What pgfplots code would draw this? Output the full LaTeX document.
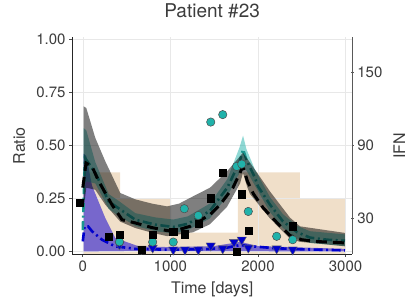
\documentclass[border=0pt]{standalone}
\usepackage{fontspec}
\setmainfont{TeX Gyre Heros}
\usepackage{pgfplots}
\pgfplotsset{compat=1.18}
\definecolor{tanc}{RGB}{222,184,135}
\definecolor{tealc}{RGB}{32,178,170}
\definecolor{tealline}{RGB}{28,150,143}
\definecolor{slate}{RGB}{106,90,205}
\definecolor{mblue}{RGB}{0,0,205}
\definecolor{txt}{RGB}{60,60,60}
\begin{document}
\begin{tikzpicture}
\path (0,0) rectangle (420pt,300pt);
% ---------- right axis: IFN (tan steps) ----------
\begin{axis}[
  at={(72pt,50.7pt)}, anchor=south west, scale only axis,
  width=280.3pt, height=216.6pt,
  xmin=-123.3, xmax=3077.6, ymin=0.3, ymax=178.8,
  axis y line*=right, axis x line=none,
  axis line style={-, black!65, line width=0.7pt},
  ytick={30,90,150}, yticklabels={30,90,150},
  tick align=center, major tick length=3pt, tick style={black!65, line width=0.6pt},
  /pgf/number format/assume math mode=true,
  yticklabel style={font=\fontsize{15}{18}\selectfont, text=txt},
  ylabel=IFN,
  ylabel style={at={(axis description cs:1.188,0.5)}, anchor=base, font=\fontsize{16}{18}\selectfont, text=txt},
]
\addplot[fill=tanc, fill opacity=0.45, draw=none] coordinates {
  (0,0) (0,67.6) (425,67.6) (425,45.9) (1010,45.9) (1010,17.9) (1772,17.9)
  (1772,67.6) (2480,67.6) (2480,45.9) (3000,45.9) (3000,0)} -- cycle;
\end{axis}
% ---------- left axis: Ratio ----------
\begin{axis}[
  at={(72pt,50.7pt)}, anchor=south west, scale only axis,
  width=280.3pt, height=216.6pt,
  xmin=-123.3, xmax=3077.6, ymin=-0.0122, ymax=1.0076,
  axis x line*=bottom, axis y line*=left,
  axis line style={-, black!85, line width=0.7pt},
  xtick={0,1000,2000,3000}, xticklabels={0,1000,2000,3000},
  ytick={0,0.25,0.5,0.75,1}, yticklabels={0.00,0.25,0.50,0.75,1.00},
  scaled ticks=false,
  grid=major, major grid style={black!9, line width=0.5pt},
  tick align=outside, major tick length=3pt, tick style={black!70, line width=0.6pt},
  /pgf/number format/assume math mode=true,
  ticklabel style={font=\fontsize{15}{18}\selectfont, text=txt},
  title={Patient \#23},
  title style={at={(axis description cs:0.5,1.0656)}, anchor=base, font=\fontsize{19}{22}\selectfont, text=txt},
  xlabel={Time [days]},
  xlabel style={at={(axis description cs:0.5,-0.1847)}, anchor=base, font=\fontsize{16}{18}\selectfont, text=txt},
  ylabel={Ratio},
  ylabel style={at={(axis description cs:-0.1677,0.5)}, anchor=base, font=\fontsize{16}{18}\selectfont, text=txt},
]
% blue band + line + triangles
\addplot[fill=slate, fill opacity=0.9, draw=none] coordinates {
 (10,0.46) (40,0.45) (105,0.31) (257,0.157) (371,0.063) (638,0.024) (1000,0.02)
 (1500,0.025) (1800,0.045) (2000,0.025) (2994,0.012)
 (2994,0.0) (500,0.002) (10,0.0)} -- cycle;
\addplot[mblue, line width=2.6pt, dash pattern=on 9pt off 3.5pt on 2pt off 3.5pt] coordinates {
 (0,0.047) (20,0.118) (60,0.118) (105,0.095) (219,0.055) (368,0.024) (600,0.012)
 (962,0.008) (1400,0.01) (1650,0.018) (1800,0.03) (1900,0.025) (2200,0.015)
 (2500,0.01) (2994,0.005)};
\addplot[only marks, mark=triangle*, mark size=5.4pt,
  mark options={rotate=180, fill=mblue, draw=black!60, line width=0.4pt}] coordinates {
 (419,0.032) (670,0.012) (798,0.017) (1033,0.008) (1167,0.008) (1319,0.008)
 (1461,0.027) (1598,0.013) (1727,0.044) (1815,0.055) (1890,0.017) (2214,0.013) (2397,0.008)};
% teal band + line + circles
\addplot[fill=tealc, fill opacity=0.5, draw=none] coordinates {
 (10,0.58) (40,0.57) (143,0.42) (296,0.27) (419,0.235) (600,0.18) (828,0.16) (1033,0.15)
 (1200,0.165) (1450,0.225) (1650,0.34) (1790,0.49) (1830,0.545) (1870,0.48) (1966,0.385)
 (2138,0.255) (2286,0.175) (2450,0.12) (2594,0.095) (2994,0.08)
 (2994,0.025) (2594,0.04) (2450,0.06) (2286,0.11) (2138,0.185) (1966,0.31) (1870,0.38)
 (1830,0.40) (1790,0.37) (1650,0.26) (1450,0.155) (1200,0.10) (1033,0.085) (828,0.095)
 (600,0.12) (419,0.165) (296,0.20) (143,0.32) (40,0.33) (10,0.30)} -- cycle;
\addplot[tealline, line width=2.6pt, dash pattern=on 9pt off 3.5pt on 2pt off 3.5pt] coordinates {
 (0,0.10) (25,0.44) (143,0.37) (296,0.235) (419,0.20) (600,0.149) (828,0.126) (1033,0.115)
 (1200,0.13) (1450,0.19) (1650,0.30) (1790,0.42) (1830,0.48) (1870,0.43) (1966,0.347)
 (2001,0.306) (2138,0.22) (2286,0.141) (2450,0.09) (2594,0.065) (2789,0.055) (2994,0.05)};
\addplot[only marks, mark=*, mark size=4.2pt,
  mark options={fill=tealc, draw=black!70, line width=0.5pt}] coordinates {
 (419,0.045) (798,0.044) (1033,0.044) (1159,0.201) (1319,0.169) (1461,0.609) (1598,0.644)
 (1757,0.40) (1815,0.411) (1890,0.188) (2214,0.071) (2397,0.055)};
% gray band + black dashed line + squares
\addplot[fill=black, fill opacity=0.5, draw=none] coordinates {
 (10,0.683) (40,0.675) (143,0.534) (257,0.424) (428,0.275) (600,0.245) (790,0.225) (962,0.212)
 (1100,0.225) (1258,0.259) (1453,0.30) (1647,0.377) (1796,0.448) (1829,0.465) (1880,0.435)
 (1910,0.418) (2138,0.282) (2366,0.159) (2480,0.118) (2994,0.087)
 (2994,0.024) (2480,0.045) (2366,0.06) (2138,0.155) (1910,0.27) (1880,0.30) (1829,0.37)
 (1796,0.32) (1647,0.21) (1453,0.128) (1258,0.09) (1100,0.08) (962,0.072) (790,0.088)
 (600,0.11) (428,0.14) (257,0.22) (143,0.29) (40,0.30) (10,0.20)} -- cycle;
\addplot[black, line width=3pt, dash pattern=on 11pt off 6pt] coordinates {
 (0,0.30) (37,0.416) (105,0.40) (182,0.33) (333,0.22) (410,0.173) (448,0.149) (600,0.134)
 (790,0.112) (962,0.098) (1033,0.095) (1225,0.118) (1453,0.173) (1567,0.22) (1715,0.30)
 (1829,0.40) (1880,0.33) (1950,0.27) (2058,0.206) (2218,0.135) (2366,0.075) (2500,0.055)
 (2650,0.047) (2994,0.04)};
\addplot[only marks, mark=square*, mark size=3.6pt, mark options={fill=black, draw=black}] coordinates {
 (-32,0.231) (293,0.071) (419,0.079) (670,0.008) (802,0.079) (1033,0.094) (1164,0.081)
 (1319,0.129) (1464,0.25) (1598,0.369) (1753,0.0) (1815,0.269) (1890,0.098) (2397,0.119)};
\end{axis}
\end{tikzpicture}
\end{document}
